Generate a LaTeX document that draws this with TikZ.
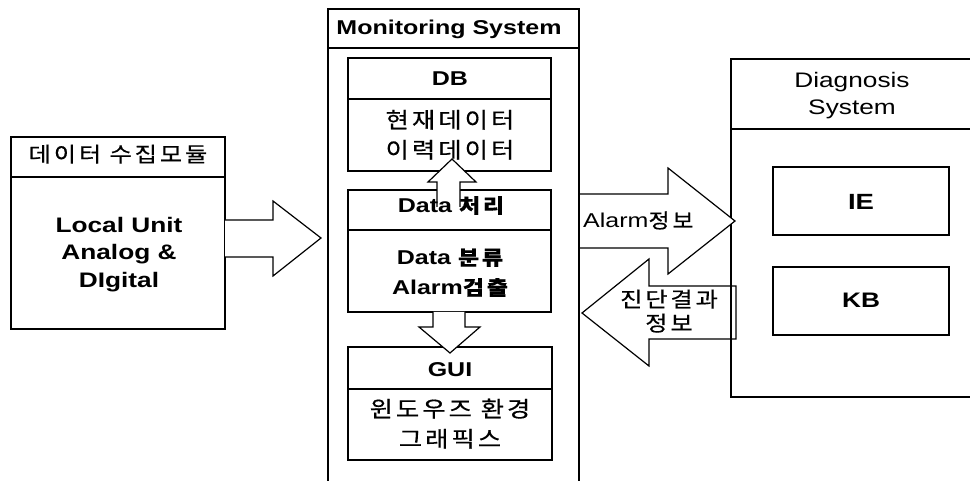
\documentclass[tikz,border=0pt]{standalone}
\usepackage{fontspec}
\setmainfont{Liberation Sans}[FakeStretch=1.25]
\newfontfamily\krfont{Noto Sans CJK KR}[FakeStretch=1.15,LetterSpace=14,FakeBold=0.5]
\newcommand\K[1]{{\krfont #1}}
\newcommand\fs[1]{\fontsize{#1}{#1}\selectfont}
\begin{document}
\begin{tikzpicture}[x=1pt,y=-1pt,
  box/.style={draw, line width=1.2pt, inner sep=0pt, outer sep=0pt},
  blk/.style={draw, line width=1.2pt, fill=white, line join=miter},
  sep/.style={line width=1.2pt},
  t/.style={inner sep=0pt, anchor=base}]
\useasboundingbox (0,0) rectangle (970,481);
\clip (0,0) rectangle (970,481);

% source module
\node[box, minimum width=214pt, minimum height=192pt] (src) at (118,233) {};
\draw[sep] (src.west |- 0,177) -- (src.east |- 0,177);

% monitoring system
\node[box, minimum width=251pt, minimum height=491pt] (mon) at (453.5,254.5) {};
\draw[sep] (mon.west |- 0,48) -- (mon.east |- 0,48);
\node[box, minimum width=203pt, minimum height=113pt] (db) at (449.5,114.5) {};
\draw[sep] (db.west |- 0,99) -- (db.east |- 0,99);
\node[box, minimum width=203pt, minimum height=122pt] (proc) at (449.5,251) {};
\draw[sep] (proc.west |- 0,230) -- (proc.east |- 0,230);
\node[box, minimum width=204pt, minimum height=113pt] (gui) at (450,403.5) {};
\draw[sep] (gui.west |- 0,389) -- (gui.east |- 0,389);

% result arrow (under diagnosis box border)
\draw[blk] (582,313) -- (649,259) -- (649,286) -- (736,286) -- (736,339) -- (649,339) -- (649,366) -- cycle;

% diagnosis system
\node[box, minimum width=269pt, minimum height=338pt] (diag) at (865.5,228) {};
\draw[sep] (diag.west |- 0,129) -- (diag.east |- 0,129);
\node[box, minimum width=176pt, minimum height=68pt] (ie) at (861,201) {};
\node[box, minimum width=176pt, minimum height=68pt] (kb) at (861,301) {};

% block arrows
\draw[blk] (225,220) -- (273,220) -- (273,201) -- (321,238) -- (273,276) -- (273,257) -- (225,257);
\draw[blk] (580,194) -- (668,194) -- (668,168) -- (735,221) -- (668,274) -- (668,248) -- (580,248);
\draw[blk] (437,207) -- (437,182) -- (428,182) -- (452,159) -- (476,182) -- (460,182) -- (460,207);
\draw[blk] (433,312) -- (433,327) -- (419,327) -- (450,353) -- (480,327) -- (465,327) -- (465,312);

% texts
\node[t, font=\krfont\fs{21}] (srcT) at (118,162) {데이터 수집모듈};
\node[t, font=\bfseries\fs{21}] (src1) at (119,233) {Local Unit};
\node[t, font=\bfseries\fs{21}] (src2) at (119,260) {Analog \&};
\node[t, font=\bfseries\fs{21}] (src3) at (119,288) {DIgital};

\node[t, font=\bfseries\fs{20}] (monT) at (449,35) {Monitoring System};
\node[t, font=\bfseries\fs{20}] (dbT) at (450,86) {DB};
\node[t, font=\krfont\fs{22}] (db1) at (450,128) {현재데이터};
\node[t, font=\krfont\fs{22}] (db2) at (450,158) {이력데이터};
\node[t, font=\bfseries\fs{20}] (procT) at (451,213) {Data \K{처리}};
\node[t, font=\bfseries\fs{20}] (proc1) at (450,265) {Data \K{분류}};
\node[t, font=\bfseries\fs{20}] (proc2) at (450,295) {Alarm\K{검출}};
\node[t, font=\bfseries\fs{20}] (guiT) at (450,377) {GUI};
\node[t, font=\krfont\fs{22}] (gui1) at (450,417) {윈도우즈 환경};
\node[t, font=\krfont\fs{22}] (gui2) at (450,447) {그래픽스};

\node[t, anchor=base west, font=\fs{20}] (alarm) at (583,228) {Alarm\K{정보}};
\node[t, font=\krfont\fs{21}] (res1) at (669,307) {진단결과};
\node[t, font=\krfont\fs{21}] (res2) at (669,331) {정보};

\node[t, font=\fs{21}] (diag1) at (852,88) {Diagnosis};
\node[t, font=\fs{21}] (diag2) at (852,115) {System};
\node[t, font=\bfseries\fs{22}] (ieT) at (861,210) {IE};
\node[t, font=\bfseries\fs{21}] (kbT) at (861,308) {KB};
\end{tikzpicture}
\end{document}
